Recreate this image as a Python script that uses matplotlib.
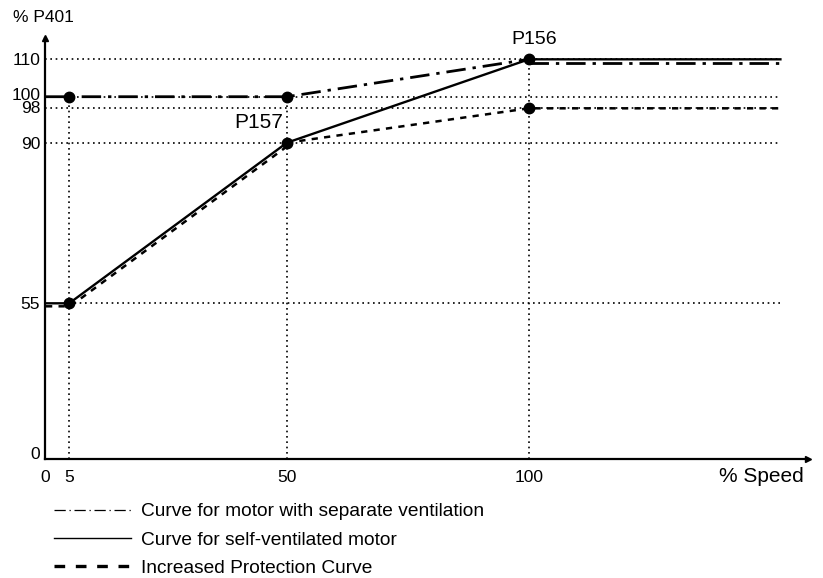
#!/usr/bin/env python3

import numpy as np
import matplotlib
matplotlib.use("Agg")
import matplotlib.pyplot as plt
import matplotlib.transforms as mtransforms
from matplotlib.lines import Line2D

plt.rcParams['font.family'] = ['Liberation Sans', 'DejaVu Sans']

# curves (% speed -> % P401)
speed = [0, 5, 50, 100, 152]
p401_separate = [100, 100, 100, 110, 110]
p401_self = [55, 55, 90, 110, 110]
p401_increased = [55, 55, 90, 98, 98]

x_ticks = [0, 5, 50, 100]
y_ticks = [0, 55, 90, 98, 100, 110]

# dotted guide lines
h_levels = [110, 100, 98, 90, 55]
h_starts = [0, 0, 0, 0, 5]
v_positions = [5, 50, 100]
v_tops = [100, 100, 110]

legend_labels = ["Curve for motor with separate ventilation",
                 "Curve for self-ventilated motor",
                 "Increased Protection Curve"]

# the y axis of the drawing is not to scale: piecewise-linear scale
Y_VALS = [-200, 0, 55, 90, 98, 100, 110, 300]
Y_POS = [-566, 0, 155.7, 316.3, 350.7, 362.3, 399.7, 1110.3]


def y_forward(v):
    return np.interp(v, Y_VALS, Y_POS)


def y_inverse(p):
    return np.interp(p, Y_POS, Y_VALS)


W, H = 823, 578
fig = plt.figure(figsize=(W / 100, H / 100), dpi=100)
ax = fig.add_axes([45 / W, (H - 459) / H, (808 - 45) / W, (459 - 38) / H])
ax.set_yscale('function', functions=(y_forward, y_inverse))
ax.set_xlim(0, 157.7)
ax.set_ylim(0, 115.7)

for s in ['top', 'right']:
    ax.spines[s].set_visible(False)
for s in ['left', 'bottom']:
    ax.spines[s].set_linewidth(1.6)
ax.plot(1, 0, '>k', ms=5, transform=ax.transAxes, clip_on=False)
ax.plot(0, 1, '^k', ms=5, transform=ax.transAxes, clip_on=False)

ax.set_xticks(x_ticks)
ax.set_yticks(y_ticks)
ax.yaxis.set_minor_locator(matplotlib.ticker.NullLocator())
ax.set_xticklabels([str(v) for v in x_ticks])
ax.set_yticklabels([str(v) for v in y_ticks])
ax.tick_params(axis='both', length=0, labelsize=12.5)
ax.tick_params(axis='x', pad=8)
ax.tick_params(axis='y', pad=3.5)

# nudge the crowded labels apart a little, like the drawing
nudges = {0: 6, 100: 3, 98: 1}
for val, lab in zip(y_ticks, ax.get_yticklabels()):
    if val in nudges:
        lab.set_transform(lab.get_transform() +
                          mtransforms.ScaledTranslation(0, nudges[val] / 100, fig.dpi_scale_trans))

dot = (0, (1, 2.2))
ax.hlines(h_levels, h_starts, speed[-1], colors='k', linestyles=[dot], lw=1.2)
ax.vlines(v_positions, 0, v_tops, colors='k', linestyles=[dot], lw=1.2)

shift_down = mtransforms.ScaledTranslation(1 / 100, -3 / 100, fig.dpi_scale_trans)

# separate ventilation: dash-dot, tail drawn just under the solid line
ax.plot(speed[:4], p401_separate[:4], color='k', lw=2.0,
        dashes=(7, 2.5, 1.2, 2.5), zorder=3)
ax.plot(speed[3:], p401_separate[3:], color='k', lw=2.0,
        dashes=(7, 2.5, 1.2, 2.5), zorder=3,
        transform=ax.transData + mtransforms.ScaledTranslation(0, -4 / 100, fig.dpi_scale_trans))

# increased protection: dashed
ax.plot(speed[:3], p401_increased[:3], color='k', lw=1.8, dashes=(2.5, 2.5), zorder=3,
        transform=ax.transData + shift_down)
ax.plot(speed[2:], p401_increased[2:], color='k', lw=1.8, dashes=(2.5, 2.5), zorder=3)

# self-ventilated: solid
ax.plot(speed, p401_self, color='k', lw=1.7, zorder=4)

# markers
ax.plot(speed[1:4], p401_separate[1:4], 'o', color='k', ms=7.5, zorder=5)
ax.plot(speed[1:4], p401_increased[1:4], 'o', color='k', ms=7.5, zorder=5)

ax.annotate("P157", xy=(speed[2], p401_self[2]), xytext=(-3, 14.5),
            textcoords='offset points', ha='right', va='center', fontsize=15)
ax.annotate("P156", xy=(speed[3], p401_self[3]), xytext=(4, 14),
            textcoords='offset points', ha='center', va='center', fontsize=14)

fig.text(43 / W, 1 - 17 / H, "% P401", ha='center', va='center', fontsize=12.5)
fig.text(761 / W, 1 - 477 / H, "% Speed", ha='center', va='center', fontsize=15)

handles = [Line2D([], [], color='k', lw=0.9, dashes=(9, 3, 1, 3)),
           Line2D([], [], color='k', lw=1.0),
           Line2D([], [], color='k', lw=2.4, dashes=(3.2, 3.2))]
fig.legend(handles, legend_labels, loc='upper left',
           bbox_to_anchor=(54 / W, 1 - 503 / H), frameon=False,
           fontsize=13.8, handlelength=4.0, handletextpad=0.55,
           labelspacing=0.56, borderpad=0, borderaxespad=0)

fig.savefig("out.png", dpi=100)
